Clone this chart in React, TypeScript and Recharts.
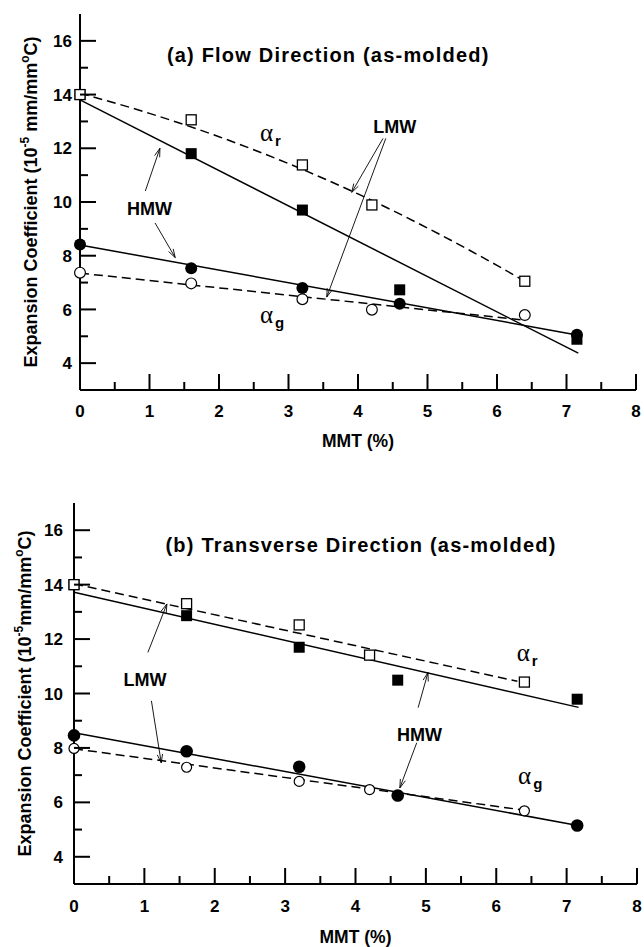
import React from "react";
import { LineChart, Line, XAxis, YAxis, ReferenceLine, ReferenceDot } from "recharts";

const X_TICKS = [0, 0.5, 1, 1.5, 2, 2.5, 3, 3.5, 4, 4.5, 5, 5.5, 6, 6.5, 7, 7.5, 8];
const Y_TICKS = [4, 5, 6, 7, 8, 9, 10, 11, 12, 13, 14, 15, 16];

// (a) flow direction — filled = HMW, open = LMW
const FLOW_MMT_HMW = [0, 1.6, 3.2, 4.6, 7.15];
const FLOW_MMT_LMW = [0, 1.6, 3.2, 4.2, 6.4];
const FLOW_AR_HMW = [14.0, 11.8, 9.7, 6.73, 4.89];
const FLOW_AR_LMW = [14.0, 13.06, 11.38, 9.89, 7.05];
const FLOW_AG_HMW = [8.42, 7.53, 6.8, 6.21, 5.06];
const FLOW_AG_LMW = [7.37, 6.97, 6.38, 5.99, 5.79];
// fitted curves
const FLOW_FIT_AR_HMW = [[0, 13.8], [7.17, 4.37]];
const FLOW_FIT_AR_LMW = [[0, 14.05], [1, 13.3], [2, 12.43], [3, 11.43], [4, 10.3], [5, 9.03], [6, 7.64], [6.4, 7.05]];
const FLOW_FIT_AG_HMW = [[0, 8.4], [7.15, 5.05]];
const FLOW_FIT_AG_LMW = [[0, 7.35], [6.4, 5.6]];

// (b) transverse direction
const TRANS_MMT_HMW = [0, 1.6, 3.2, 4.6, 7.15];
const TRANS_MMT_LMW = [0, 1.6, 3.2, 4.2, 6.4];
const TRANS_AR_HMW = [14.0, 12.86, 11.7, 10.49, 9.79];
const TRANS_AR_LMW = [14.0, 13.3, 12.52, 11.41, 10.42];
const TRANS_AG_HMW = [8.46, 7.88, 7.31, 6.25, 5.15];
const TRANS_AG_LMW = [7.98, 7.29, 6.77, 6.47, 5.69];
const TRANS_FIT_AR_HMW = [[0, 13.72], [7.17, 9.49]];
const TRANS_FIT_AR_LMW = [[0, 14.03], [6.3, 10.45]];
const TRANS_FIT_AG_HMW = [[0, 8.56], [7.16, 5.15]];
const TRANS_FIT_AG_LMW = [[0, 7.97], [6.35, 5.73]];

const SANS = "'Liberation Sans', Arial, sans-serif";
const SERIF = "'Liberation Serif', 'Times New Roman', serif";

type Pt = { x: number; y: number };
const pts = (xs: number[], ys: number[]): Pt[] => xs.map((x, i) => ({ x, y: ys[i] }));
const fit = (arr: number[][]): Pt[] => arr.map(([x, y]) => ({ x, y }));

const sqFilled = (s: number) => (p: any) => (
  <rect key={`sf${p.index}`} x={p.cx - s / 2} y={p.cy - s / 2} width={s} height={s} fill="#000" />
);
const sqOpen = (s: number) => (p: any) => (
  <rect key={`so${p.index}`} x={p.cx - s / 2} y={p.cy - s / 2} width={s} height={s} fill="#fff" stroke="#000" strokeWidth={1.3} />
);
const ciFilled = (r: number) => (p: any) => <circle key={`cf${p.index}`} cx={p.cx} cy={p.cy} r={r} fill="#000" />;
const ciOpen = (r: number) => (p: any) => (
  <circle key={`co${p.index}`} cx={p.cx} cy={p.cy} r={r} fill="#fff" stroke="#000" strokeWidth={1.2} />
);

const arrow = (p: any) => {
  const { x1, y1, x2, y2 } = p;
  const a = Math.atan2(y2 - y1, x2 - x1);
  const L = 9;
  const w = 0.3;
  const h1 = `${x2 - L * Math.cos(a - w)},${y2 - L * Math.sin(a - w)}`;
  const h2 = `${x2 - L * Math.cos(a + w)},${y2 - L * Math.sin(a + w)}`;
  return (
    <g>
      <line x1={x1} y1={y1} x2={x2} y2={y2} stroke="#000" strokeWidth={0.9} />
      <polyline points={`${h1} ${x2},${y2} ${h2}`} fill="none" stroke="#000" strokeWidth={0.9} />
    </g>
  );
};

interface PanelProps {
  height: number;
  marginTop: number;
  marginRight: number;
  yAxisW: number;
  xAxisH: number;
  yTickGap: number;
  xTickDy: number;
  xTitleDy: number;
  yTitleX: number;
  yTitleGap: boolean;
  sq: [number, number];
  ci: [number, number];
  series: {
    mmtH: number[]; mmtL: number[];
    arH: number[]; arL: number[]; agH: number[]; agL: number[];
    fitArH: number[][]; fitArL: number[][]; fitAgH: number[][]; fitAgL: number[][];
  };
  title: { x: number; y: number; text: string };
  labels: { x: number; y: number; text: string }[];
  greek: { x: number; y: number; sub: string }[];
  arrows: number[][];
}

function Panel(props: PanelProps) {
  const { series: s } = props;
  const X = { xAxisId: "b", yAxisId: "l" };

  const bottomTick = (p: any) => {
    const v = p.payload.value;
    const major = Number.isInteger(v);
    return (
      <g key={`bt${v}`}>
        <line x1={p.x} x2={p.x} y1={p.y} y2={p.y - (major ? 16 : 8)} stroke="#000" strokeWidth={2} />
        {major && (
          <text x={p.x} y={p.y + props.xTickDy} textAnchor="middle" fontFamily={SANS} fontWeight="bold" fontSize={17}>
            {v}
          </text>
        )}
      </g>
    );
  };
  const topTick = (p: any) => {
    const v = p.payload.value;
    if (v === 0 || v === 8) return <g key={`tt${v}`} />;
    const major = Number.isInteger(v);
    return <line key={`tt${v}`} x1={p.x} x2={p.x} y1={p.y} y2={p.y + (major ? 16 : 8)} stroke="#000" strokeWidth={2} />;
  };
  const leftTick = (p: any) => {
    const v = p.payload.value;
    const major = v % 2 === 0;
    return (
      <g key={`lt${v}`}>
        <line x1={p.x} x2={p.x + (major ? 16 : 8)} y1={p.y} y2={p.y} stroke="#000" strokeWidth={2} />
        {major && (
          <text x={p.x - props.yTickGap} y={p.y} dy="0.36em" textAnchor="end" fontFamily={SANS} fontWeight="bold" fontSize={17}>
            {v}
          </text>
        )}
      </g>
    );
  };
  const rightTick = (p: any) => {
    const v = p.payload.value;
    const major = v % 2 === 0;
    return <line key={`rt${v}`} x1={p.x} x2={p.x - (major ? 16 : 8)} y1={p.y} y2={p.y} stroke="#000" strokeWidth={2} />;
  };

  const yTitle = (lp: any) => {
    const vb = lp.viewBox;
    const cy = vb.y + vb.height / 2;
    const cx = props.yTitleX;
    return (
      <text
        x={cx}
        y={cy}
        transform={`rotate(-90 ${cx} ${cy})`}
        textAnchor="middle"
        dy="0.36em"
        fontFamily={SANS}
        fontWeight="bold"
        fontSize={18}
      >
        Expansion Coefficient (10
        <tspan dy={-8} fontSize={12}>-5</tspan>
        <tspan dy={8}>{props.yTitleGap ? " mm/mm" : "mm/mm"}</tspan>
        <tspan dy={-8} fontSize={12}>o</tspan>
        <tspan dy={8}>C)</tspan>
      </text>
    );
  };
  const xTitle = (lp: any) => {
    const vb = lp.viewBox;
    return (
      <text x={vb.x + vb.width / 2} y={vb.y + props.xTitleDy} textAnchor="middle" fontFamily={SANS} fontWeight="bold" fontSize={17.5}>
        MMT (%)
      </text>
    );
  };

  const axisLine = { stroke: "#000", strokeWidth: 2 };

  return (
    <LineChart
      width={644}
      height={props.height}
      margin={{ top: props.marginTop, right: props.marginRight, left: 0, bottom: 0 }}
    >
      <XAxis
        xAxisId="b"
        type="number"
        dataKey="x"
        domain={[0, 8]}
        ticks={X_TICKS}
        interval={0}
        tick={bottomTick}
        tickLine={false}
        tickSize={0}
        tickMargin={0}
        axisLine={axisLine}
        height={props.xAxisH}
        label={{ content: xTitle }}
      />
      <XAxis
        xAxisId="t"
        orientation="top"
        type="number"
        dataKey="x"
        domain={[0, 8]}
        ticks={X_TICKS}
        interval={0}
        tick={topTick}
        tickLine={false}
        tickSize={0}
        tickMargin={0}
        axisLine={axisLine}
        height={0}
      />
      <YAxis
        yAxisId="l"
        type="number"
        dataKey="y"
        domain={[3, 17]}
        ticks={Y_TICKS}
        interval={0}
        tick={leftTick}
        tickLine={false}
        tickSize={0}
        tickMargin={0}
        axisLine={axisLine}
        width={props.yAxisW}
        label={{ content: yTitle }}
      />
      <YAxis
        yAxisId="r"
        orientation="right"
        type="number"
        dataKey="y"
        domain={[3, 17]}
        ticks={Y_TICKS}
        interval={0}
        tick={rightTick}
        tickLine={false}
        tickSize={0}
        tickMargin={0}
        axisLine={axisLine}
        width={0}
      />

      {/* fitted lines */}
      <Line {...X} data={fit(s.fitArH)} dataKey="y" stroke="#000" strokeWidth={1.5} dot={false} activeDot={false} isAnimationActive={false} />
      <Line {...X} data={fit(s.fitArL)} dataKey="y" type="monotone" stroke="#000" strokeWidth={1.5} strokeDasharray="9 5" dot={false} activeDot={false} isAnimationActive={false} />
      <Line {...X} data={fit(s.fitAgH)} dataKey="y" stroke="#000" strokeWidth={1.5} dot={false} activeDot={false} isAnimationActive={false} />
      <Line {...X} data={fit(s.fitAgL)} dataKey="y" stroke="#000" strokeWidth={1.5} strokeDasharray="9 5" dot={false} activeDot={false} isAnimationActive={false} />

      {/* measured points */}
      <Line {...X} data={pts(s.mmtH, s.arH)} dataKey="y" stroke="none" dot={sqFilled(props.sq[0])} activeDot={false} isAnimationActive={false} />
      <Line {...X} data={pts(s.mmtL, s.arL)} dataKey="y" stroke="none" dot={sqOpen(props.sq[1])} activeDot={false} isAnimationActive={false} />
      <Line {...X} data={pts(s.mmtH, s.agH)} dataKey="y" stroke="none" dot={ciFilled(props.ci[0])} activeDot={false} isAnimationActive={false} />
      <Line {...X} data={pts(s.mmtL, s.agL)} dataKey="y" stroke="none" dot={ciOpen(props.ci[1])} activeDot={false} isAnimationActive={false} />

      {props.arrows.map((a, i) => (
        <ReferenceLine
          key={`ar${i}`}
          {...X}
          segment={[{ x: a[0], y: a[1] }, { x: a[2], y: a[3] }]}
          ifOverflow="visible"
          shape={arrow}
        />
      ))}

      <ReferenceDot
        {...X}
        x={props.title.x}
        y={props.title.y}
        r={0}
        ifOverflow="visible"
        shape={(p: any) => (
          <text x={p.cx} y={p.cy} fontFamily={SANS} fontWeight="bold" fontSize={20} letterSpacing={1.2}>
            {props.title.text}
          </text>
        )}
      />
      {props.labels.map((l, i) => (
        <ReferenceDot
          key={`lb${i}`}
          {...X}
          x={l.x}
          y={l.y}
          r={0}
          ifOverflow="visible"
          shape={(p: any) => (
            <text x={p.cx} y={p.cy} textAnchor="middle" fontFamily={SANS} fontWeight="bold" fontSize={18}>
              {l.text}
            </text>
          )}
        />
      ))}
      {props.greek.map((g, i) => (
        <ReferenceDot
          key={`gk${i}`}
          {...X}
          x={g.x}
          y={g.y}
          r={0}
          ifOverflow="visible"
          shape={(p: any) => (
            <text x={p.cx} y={p.cy} fontFamily={SERIF} fontSize={25}>
              α
              <tspan dx={2} dy={5} fontFamily={SANS} fontWeight="bold" fontSize={15}>
                {g.sub}
              </tspan>
            </text>
          )}
        />
      ))}
    </LineChart>
  );
}

export default function App() {
  return (
    <div style={{ position: "absolute", left: 0, top: 0, width: 644, height: 947, background: "#fff" }}>
      <Panel
        height={470}
        marginTop={14}
        marginRight={8}
        yAxisW={80}
        xAxisH={80}
        yTickGap={8}
        xTickDy={27}
        xTitleDy={57}
        yTitleX={31}
        yTitleGap
        sq={[11, 10]}
        ci={[6, 5.4]}
        series={{
          mmtH: FLOW_MMT_HMW, mmtL: FLOW_MMT_LMW,
          arH: FLOW_AR_HMW, arL: FLOW_AR_LMW, agH: FLOW_AG_HMW, agL: FLOW_AG_LMW,
          fitArH: FLOW_FIT_AR_HMW, fitArL: FLOW_FIT_AR_LMW, fitAgH: FLOW_FIT_AG_HMW, fitAgL: FLOW_FIT_AG_LMW,
        }}
        title={{ x: 1.25, y: 15.22, text: "(a) Flow Direction (as-molded)" }}
        labels={[
          { x: 4.53, y: 12.56, text: "LMW" },
          { x: 1.0, y: 9.52, text: "HMW" },
        ]}
        greek={[
          { x: 2.59, y: 12.26, sub: "r" },
          { x: 2.59, y: 5.48, sub: "g" },
        ]}
        arrows={[
          [4.36, 12.37, 3.91, 10.36],
          [4.4, 12.37, 3.55, 6.46],
          [0.94, 10.41, 1.15, 12.0],
          [1.08, 9.22, 1.37, 7.93],
        ]}
      />
      <Panel
        height={477}
        marginTop={33}
        marginRight={7}
        yAxisW={74}
        xAxisH={63}
        yTickGap={11}
        xTickDy={28}
        xTitleDy={59}
        yTitleX={25}
        yTitleGap={false}
        sq={[11, 10]}
        ci={[6.3, 5]}
        series={{
          mmtH: TRANS_MMT_HMW, mmtL: TRANS_MMT_LMW,
          arH: TRANS_AR_HMW, arL: TRANS_AR_LMW, agH: TRANS_AG_HMW, agL: TRANS_AG_LMW,
          fitArH: TRANS_FIT_AR_HMW, fitArL: TRANS_FIT_AR_LMW, fitAgH: TRANS_FIT_AG_HMW, fitAgL: TRANS_FIT_AG_LMW,
        }}
        title={{ x: 1.3, y: 15.2, text: "(b) Transverse Direction (as-molded)" }}
        labels={[
          { x: 1.01, y: 10.27, text: "LMW" },
          { x: 4.91, y: 8.24, text: "HMW" },
        ]}
        greek={[
          { x: 6.29, y: 11.19, sub: "r" },
          { x: 6.31, y: 6.69, sub: "g" },
        ]}
        arrows={[
          [1.05, 11.51, 1.32, 13.29],
          [1.1, 9.73, 1.24, 7.45],
          [4.89, 9.48, 5.03, 10.77],
          [4.87, 8.19, 4.63, 6.53],
        ]}
      />
    </div>
  );
}
